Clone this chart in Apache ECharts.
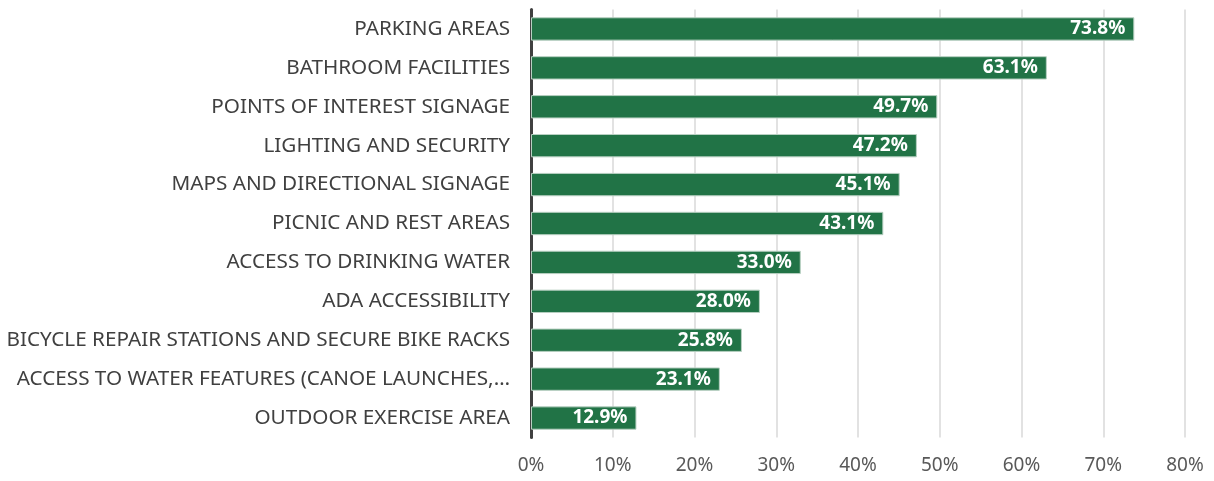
<!DOCTYPE html>
<html><head><meta charset="utf-8">
<script src="https://cdn.jsdelivr.net/npm/echarts@6/dist/echarts.min.js"></script>
<style>html,body{margin:0;padding:0;background:#fff}#c{width:1214px;height:481px}</style>
</head><body><div id="c"></div>
<script>
const categories = [
  "PARKING AREAS",
  "BATHROOM FACILITIES",
  "POINTS OF INTEREST SIGNAGE",
  "LIGHTING AND SECURITY",
  "MAPS AND DIRECTIONAL SIGNAGE",
  "PICNIC AND REST AREAS",
  "ACCESS TO DRINKING WATER",
  "ADA ACCESSIBILITY",
  "BICYCLE REPAIR STATIONS AND SECURE BIKE RACKS",
  "ACCESS TO WATER FEATURES (CANOE LAUNCHES,…",
  "OUTDOOR EXERCISE AREA"
];
const values = [73.8, 63.1, 49.7, 47.2, 45.1, 43.1, 33.0, 28.0, 25.8, 23.1, 12.9];
const xTicks = { min: 0, max: 80, interval: 10 };

const chart = echarts.init(document.getElementById('c'));
chart.setOption({
  animation: false,
  grid: { left: 531, right: 29, top: 9.5, bottom: 43.5, containLabel: false },
  xAxis: {
    type: 'value', min: xTicks.min, max: xTicks.max, interval: xTicks.interval,
    axisLine: { show: false }, axisTick: { show: false },
    splitLine: { show: true, lineStyle: { color: '#d9d9d9', width: 1.5 } },
    axisLabel: { formatter: '{value}%', color: '#595959', fontFamily: 'Noto Sans', fontSize: 19, margin: 19 }
  },
  yAxis: {
    type: 'category', data: categories, inverse: true,
    axisLine: { show: true, lineStyle: { color: '#404040', width: 3 } },
    axisTick: { show: false },
    axisLabel: { color: '#404040', fontFamily: 'Noto Sans', fontSize: 20.7, margin: 21 }
  },
  series: [{
    type: 'bar', data: values, barWidth: '60%',
    itemStyle: { color: '#217346', borderColor: '#b8d0c2', borderWidth: 1 },
    label: {
      show: true, position: 'insideRight', distance: 9,
      formatter: p => p.value.toFixed(1) + '%',
      color: '#ffffff', fontWeight: 'bold', fontFamily: 'Noto Sans', fontSize: 19
    }
  }]
});
</script></body></html>
